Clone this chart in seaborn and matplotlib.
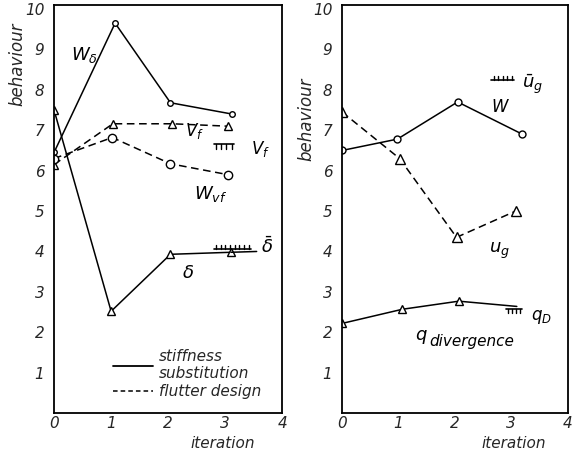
###############################################################################
# Import Libraries
###############################################################################
import numpy as np
import pandas as pd
import matplotlib
matplotlib.use('Agg')
import matplotlib.pyplot as plt
import matplotlib.patheffects as pe
from matplotlib.lines import Line2D
import seaborn as sns


###############################################################################
# Data
###############################################################################
# left panel - stiffness substitution (solid)
it_wd = [0.0, 1.07, 2.04, 3.12]
w_delta = [6.45, 9.65, 7.68, 7.4]

it_d = [0.0, 1.0, 2.04, 3.1, 3.55]
delta = [7.5, 2.52, 3.93, 3.98, 4.0]

# left panel - flutter design (dashed)
it_vf = [0.0, 1.03, 2.07, 3.05]
v_f = [6.15, 7.16, 7.16, 7.1]

it_wvf = [0.0, 1.02, 2.04, 3.05]
w_vf = [6.3, 6.82, 6.17, 5.9]

# right panel
it_w = [0.0, 0.98, 2.05, 3.2]
w_right = [6.5, 6.78, 7.7, 6.9]

it_ug = [0.0, 1.02, 2.03, 3.08]
u_g = [7.45, 6.3, 4.35, 5.0]

it_q = [0.0, 1.07, 2.07, 3.1]
q_div = [2.22, 2.57, 2.77, 2.64]
q_marked = [True, True, True, False]

# constraint levels and their x spans
vf_bound, vf_span = 6.65, [2.8, 3.15]
delta_bound, delta_span = 4.05, [2.8, 3.45]
ug_bound, ug_span = 8.25, [2.65, 3.05]
qd_bound, qd_span = 2.58, [2.9, 3.2]

x_ticks = [0, 1, 2, 3, 4]
y_ticks = [1, 2, 3, 4, 5, 6, 7, 8, 9, 10]


###############################################################################
# Style
###############################################################################
sns.set_theme(style='white')
plt.rcParams['font.family'] = ['DejaVu Sans']
plt.rcParams['mathtext.fontset'] = 'dejavusans'
plt.rcParams['axes.edgecolor'] = 'black'
plt.rcParams['axes.linewidth'] = 1.3

fig = plt.figure(figsize=(5.75, 4.51), dpi=100)
ax1 = fig.add_axes([0.094, 0.084, 0.397, 0.905])
ax2 = fig.add_axes([0.595, 0.084, 0.392, 0.905])

txt = dict(color='black', style='italic', fontsize=11)
dash = (5, 3)


def draw_series(ax, x, y, marker, dashed, msize):
    line_kw = dict(dashes=dash) if dashed else {}
    sns.lineplot(x=x, y=y, ax=ax, color='black', linewidth=1.1,
                 marker=marker, markersize=msize, markerfacecolor='white',
                 markeredgecolor='black', markeredgewidth=1.0,
                 estimator=None, sort=False, **line_kw)


def draw_bound(ax, span, level, up):
    angle = 90 if up else -90
    ax.plot(span, [level, level], color='black', linewidth=1.2,
            path_effects=[pe.withTickedStroke(angle=angle, spacing=3,
                                              length=1.0, linewidth=1.0)])


def style_axes(ax, label_x, label_y):
    ax.set_xlim(0, 4)
    ax.set_ylim(0, 10.1)
    ax.set_xticks(x_ticks)
    ax.set_yticks(y_ticks)
    ax.set_xticklabels([str(t) for t in x_ticks], style='italic', fontsize=11)
    ax.set_yticklabels([str(t) for t in y_ticks], style='italic', fontsize=11)
    ax.tick_params(axis='y', direction='out', length=3, width=1, pad=4)
    ax.tick_params(axis='x', length=0, pad=2)
    for s in ax.spines.values():
        s.set_visible(True)
        s.set_color('black')
    ax.set_xlabel('iteration', style='italic', fontsize=11)
    ax.xaxis.set_label_coords(label_x, -0.056)
    ax.set_ylabel('behaviour', style='italic', fontsize=12)
    ax.yaxis.set_label_coords(-0.12, label_y)


###############################################################################
# Left panel
###############################################################################
draw_series(ax1, it_wd, w_delta, 'o', False, 4)
draw_series(ax1, it_d[:4], delta[:4], '^', False, 6)
ax1.plot(it_d[3:], delta[3:], color='black', linewidth=1.1)
draw_series(ax1, it_vf, v_f, '^', True, 6)
draw_series(ax1, it_wvf, w_vf, 'o', True, 6)
draw_bound(ax1, vf_span, vf_bound, False)
draw_bound(ax1, delta_span, delta_bound, True)

ax1.text(0.3, 8.75, r'$W_\delta$', fontsize=13, color='black')
ax1.text(2.3, 6.85, r'$V_f$', fontsize=12, color='black')
ax1.text(3.45, 6.4, r'$V_f$', fontsize=12, color='black')
ax1.text(2.45, 5.3, r'$W_{vf}$', fontsize=13, color='black')
ax1.text(2.25, 3.35, r'$\delta$', fontsize=13, color='black')
ax1.text(3.62, 3.95, r'$\bar{\delta}$', fontsize=13, color='black')

handles = [Line2D([], [], color='black', linewidth=1.3, linestyle='-'),
           Line2D([], [], color='black', linewidth=1.1, dashes=(3, 2))]
ax1.legend(handles, ['stiffness\nsubstitution', 'flutter design'],
           loc='lower left', bbox_to_anchor=(0.2, 0.0), frameon=False,
           handlelength=2.6, labelspacing=0.2, handletextpad=0.4,
           prop={'style': 'italic', 'size': 11})

style_axes(ax1, 0.74, 0.855)

###############################################################################
# Right panel
###############################################################################
draw_series(ax2, it_w, w_right, 'o', False, 5)
draw_series(ax2, it_ug, u_g, '^', True, 7)
ax2.plot(it_q, q_div, color='black', linewidth=1.1)
ax2.plot(np.array(it_q)[q_marked], np.array(q_div)[q_marked], linestyle='none',
         marker='^', markersize=6, markerfacecolor='white',
         markeredgecolor='black')
draw_bound(ax2, ug_span, ug_bound, True)
draw_bound(ax2, qd_span, qd_bound, False)

ax2.text(2.65, 7.45, r'$W$', fontsize=12, color='black')
ax2.text(3.2, 8.05, r'$\bar{u}_g$', fontsize=13, color='black')
ax2.text(2.6, 3.95, r'$u_g$', fontsize=13, color='black')
ax2.text(3.35, 2.3, r'$q_D$', fontsize=12, color='black')
ax2.text(1.3, 1.8, r'$q$', fontsize=13, color='black')
ax2.text(1.55, 1.65, 'divergence', **txt)

style_axes(ax2, 0.76, 0.72)

fig.savefig('out.png', dpi=100)
